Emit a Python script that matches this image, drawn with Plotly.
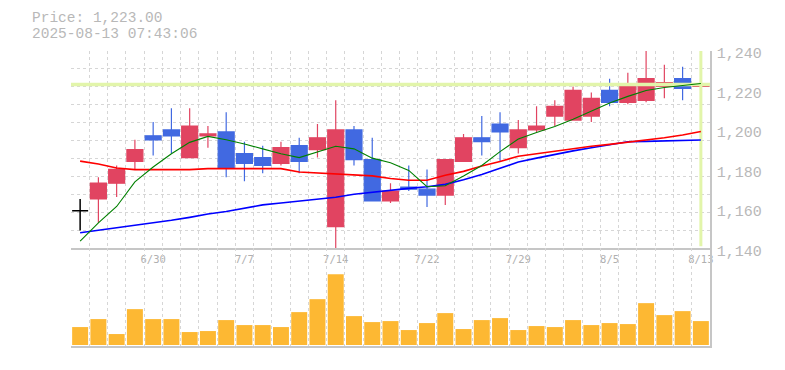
import plotly.graph_objects as go

# ---------------- data ----------------
dates = ["2025-06-24", "2025-06-25", "2025-06-26", "2025-06-27", "2025-06-30",
         "2025-07-01", "2025-07-02", "2025-07-03", "2025-07-04", "2025-07-07",
         "2025-07-08", "2025-07-09", "2025-07-10", "2025-07-11", "2025-07-14",
         "2025-07-15", "2025-07-16", "2025-07-17", "2025-07-18", "2025-07-22",
         "2025-07-23", "2025-07-24", "2025-07-25", "2025-07-28", "2025-07-29",
         "2025-07-30", "2025-07-31", "2025-08-01", "2025-08-04", "2025-08-05",
         "2025-08-06", "2025-08-07", "2025-08-08", "2025-08-12", "2025-08-13"]

open_ = [1159, 1165, 1173, 1184, 1197, 1200, 1186, 1197, 1199, 1188,
         1186, 1183, 1192, 1190, 1151, 1200, 1185, 1164, 1171, 1170,
         1167, 1184, 1196, 1203, 1191, 1200, 1207, 1205, 1207, 1220,
         1214, 1215, 1222, 1226, 1222]
high = [1165, 1176, 1182, 1195, 1204, 1211, 1211, 1202, 1209, 1194,
        1192, 1194, 1196, 1203, 1215, 1202, 1196, 1173, 1182, 1180,
        1185, 1198, 1207, 1209, 1205, 1212, 1215, 1222, 1219, 1226,
        1229, 1241, 1233, 1232, 1234]
low = [1149, 1153, 1166, 1180, 1187, 1188, 1186, 1191, 1176, 1174,
       1178, 1182, 1178, 1186, 1140, 1182, 1164, 1163, 1169, 1161,
       1162, 1184, 1187, 1184, 1188, 1199, 1202, 1205, 1204, 1212,
       1213, 1214, 1216, 1215, 1221]
close = [1159, 1173, 1180, 1190, 1195, 1197, 1202, 1198, 1181, 1183,
         1182, 1191, 1184, 1196, 1200, 1185, 1164, 1169, 1170, 1167,
         1185, 1196, 1194, 1199, 1200, 1202, 1212, 1220, 1216, 1214,
         1223, 1226, 1224, 1221, 1223]

ma5 = [1143.7, 1152.9, 1161.2, 1173.7, 1181.2, 1187.9, 1193.7, 1196.7, 1195.0, 1192.9,
       1190.4, 1187.9, 1186.0, 1188.7, 1191.7, 1190.4, 1185.7, 1183.4, 1179.5, 1171.2,
       1171.7, 1176.7, 1182.0, 1189.0, 1195.4, 1198.7, 1201.7, 1205.4, 1209.5, 1213.7,
       1217.0, 1220.0, 1221.5, 1222.5, 1223.5]
ma25 = [1184.2, 1182.7, 1180.7, 1179.9, 1179.9, 1179.9, 1179.9, 1180.4, 1180.4, 1180.4,
        1180.4, 1180.4, 1178.7, 1178.2, 1178.0, 1177.5, 1176.7, 1175.4, 1174.5, 1174.5,
        1177.0, 1179.0, 1181.7, 1184.0, 1186.7, 1187.9, 1189.2, 1190.5, 1191.7, 1192.7,
        1193.7, 1194.9, 1196.0, 1197.4, 1199.2]
ma75 = [1147.9, 1149.0, 1150.4, 1151.7, 1152.9, 1154.2, 1155.7, 1157.4, 1158.7, 1160.4,
        1162.0, 1163.0, 1164.0, 1165.0, 1165.9, 1167.4, 1168.5, 1169.4, 1170.4, 1171.2,
        1172.4, 1174.7, 1177.4, 1180.6, 1183.7, 1185.7, 1187.7, 1189.4, 1191.0, 1192.4,
        1194.0, 1194.2, 1194.5, 1194.7, 1194.9]

volume = [5400, 7800, 3300, 10800, 7800, 7800, 3900, 4200, 7500, 6000,
          6000, 5400, 9900, 13800, 21300, 8700, 6900, 7200, 4500, 6600,
          9600, 4800, 7500, 8100, 4500, 5700, 5400, 7500, 6000, 6600,
          6300, 12600, 9000, 10200, 7200]

tick_labels = ["6/30", "7/7", "7/14", "7/22", "7/29", "8/5", "8/13"]
y_ticks = [1140, 1160, 1180, 1200, 1220, 1240]
y_range = [1140, 1240]
vol_range = [-300, 29100]

price_text = "Price: 1,223.00"
time_text = "2025-08-13 07:43:06"

# ---------------- style ----------------
W, H = 785, 370
ML, MR, MT, MB = 71, 75, 51, 20
PW, PH = W - ML - MR, H - MT - MB
RED = "#E14461"
BLUE = "#4169E1"
GRID = "#d6d6d6"
AXIS = "#c6c6c6"
TXT = "#b8b8b8"
HL = "#E2F5AA"
MONO = "Liberation Mono"

x = list(range(len(dates)))
md = [f"{int(d[5:7])}/{int(d[8:10])}" for d in dates]
tickvals = [md.index(t) for t in tick_labels]

norm = [i for i in x if open_[i] != close[i]]
doji = [i for i in x if open_[i] == close[i]]

fig = go.Figure()

# current-price highlight (horizontal at last close, vertical at last bar)
fig.add_trace(go.Scatter(x=[x[0] - 0.5, x[-1] + 0.5], y=[close[-1], close[-1]], mode="lines",
                         line=dict(color=HL, width=3.5), xaxis="x", yaxis="y", hoverinfo="skip"))
fig.add_trace(go.Scatter(x=[x[-1], x[-1]], y=[y_range[0] + 1, y_range[1]], mode="lines",
                         line=dict(color=HL, width=3), xaxis="x", yaxis="y", hoverinfo="skip"))

fig.add_trace(go.Scatter(x=x, y=ma75, mode="lines", line=dict(color="#0000FF", width=1.6),
                         xaxis="x", yaxis="y", hoverinfo="skip"))
fig.add_trace(go.Scatter(x=x, y=ma25, mode="lines", line=dict(color="#FF0000", width=1.6),
                         xaxis="x", yaxis="y", hoverinfo="skip"))
fig.add_trace(go.Scatter(x=x, y=ma5, mode="lines", line=dict(color="#008000", width=1.1),
                         xaxis="x", yaxis="y", hoverinfo="skip"))

fig.add_trace(go.Candlestick(
    x=[x[i] for i in norm], open=[open_[i] for i in norm], high=[high[i] for i in norm],
    low=[low[i] for i in norm], close=[close[i] for i in norm],
    increasing=dict(line=dict(color=RED, width=1.2), fillcolor=RED),
    decreasing=dict(line=dict(color=BLUE, width=1.2), fillcolor=BLUE),
    whiskerwidth=0, xaxis="x", yaxis="y"))
fig.add_trace(go.Candlestick(
    x=[x[i] for i in doji], open=[open_[i] for i in doji], high=[high[i] for i in doji],
    low=[low[i] for i in doji], close=[close[i] for i in doji],
    increasing=dict(line=dict(color="black", width=1.5), fillcolor="black"),
    decreasing=dict(line=dict(color="black", width=1.5), fillcolor="black"),
    whiskerwidth=0, xaxis="x", yaxis="y"))

fig.add_trace(go.Bar(x=x, y=volume, width=0.875, marker=dict(color="#FDB833", line=dict(width=0)),
                     xaxis="x2", yaxis="y2", hoverinfo="skip"))

split = 99 / PH
grid_minor_x = dict(tickmode="linear", tick0=-0.5, dtick=1, showgrid=True, gridcolor=GRID,
                    griddash="3px,3px", gridwidth=1, ticks="")
fig.update_layout(
    width=W, height=H, margin=dict(l=ML, r=MR, t=MT, b=MB),
    paper_bgcolor="white", plot_bgcolor="white", showlegend=False,
    boxmode="overlay", boxgap=0.125, boxgroupgap=0,
    xaxis=dict(domain=[0, 1], anchor="y", range=[-0.5, len(x) - 0.5],
               tickmode="array", tickvals=tickvals, ticktext=tick_labels, ticks="",
               tickfont=dict(family="DejaVu Sans Mono", size=10.5, color="#b0b0b0"),
               showgrid=False, minor=grid_minor_x, zeroline=False,
               showline=True, linecolor=AXIS, linewidth=2,
               rangeslider=dict(visible=False)),
    yaxis=dict(domain=[split, 1], anchor="x", side="right", range=y_range,
               tickmode="array", tickvals=y_ticks, ticktext=[f"{v:,}" for v in y_ticks],
               ticks="", tickfont=dict(family=MONO, size=15, color=TXT),
               ticklabelstandoff=2, ticklabelshift=2,
               showgrid=False, zeroline=False,
               minor=dict(tickmode="linear", tick0=y_range[0], dtick=(y_range[1] - y_range[0]) / 11,
                          showgrid=True, gridcolor=GRID, griddash="3px,3px", gridwidth=1, ticks=""),
               showline=True, linecolor=AXIS, linewidth=1.5),
    xaxis2=dict(domain=[0, 1], anchor="y2", range=[-0.5, len(x) - 0.5],
                showticklabels=False, ticks="", showgrid=False, minor=grid_minor_x,
                zeroline=False, showline=True, linecolor=AXIS, linewidth=2),
    yaxis2=dict(domain=[0, split], anchor="x2", side="right", range=vol_range,
                showticklabels=False, ticks="", showgrid=False, zeroline=False,
                showline=True, linecolor=AXIS, linewidth=1.5),
)


def px_to_paper(px, py):
    return (px - ML) / PW, (H - MB - py) / PH


for txt, py in [(price_text, 18), (time_text, 34)]:
    ax_, ay_ = px_to_paper(30, py)
    fig.add_annotation(text=txt, xref="paper", yref="paper", x=ax_, y=ay_,
                       xanchor="left", yanchor="middle", showarrow=False,
                       font=dict(family=MONO, size=14.5, color=TXT))

fig.write_html("out.html", config={"displayModeBar": False},
               post_script="document.body.style.margin='0px';")
